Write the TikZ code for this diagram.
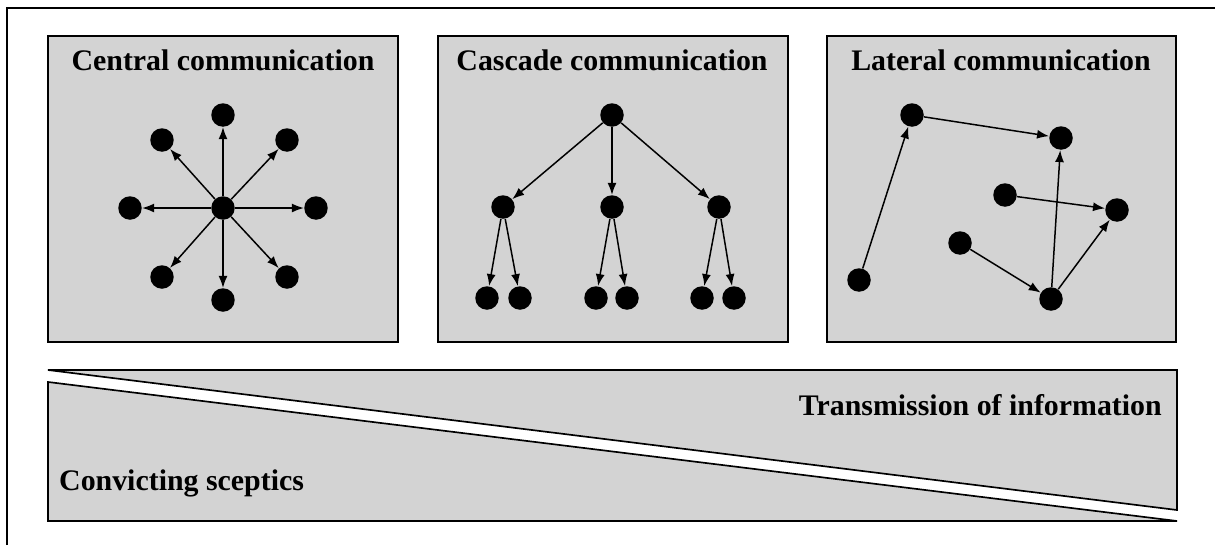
\documentclass[tikz,border=0pt]{standalone}
\usepackage{fontspec}
\setmainfont{Liberation Serif}
\usetikzlibrary{arrows.meta}
\definecolor{panelgray}{RGB}{211,211,211}
\tikzset{
  dot/.style={circle,fill=black,inner sep=0pt,minimum size=0.47cm},
  link/.style={-{Latex[length=2.4mm,width=1.8mm]},line width=0.85pt},
  panel/.style={draw,fill=panelgray,line width=0.95pt},
  title/.style={font=\bfseries\fontsize{17}{20}\selectfont,anchor=base}
}

\begin{document}
\begin{tikzpicture}[x=0.02cm,y=-0.02cm]
    \useasboundingbox (0,0) rectangle (1215,545);
    \draw[line width=0.95pt] (7,545) -- (7,8) -- (1215,8);

    % the three panels
    \draw[panel] (48,36) rectangle (398,342);
    \draw[panel] (438,36) rectangle (788,342);
    \draw[panel] (827,36) rectangle (1176,342);
    \node[title] (tcentral) at (223,70) {Central communication};
    \node[title] (tcascade) at (612,70) {Cascade communication};
    \node[title] (tlateral) at (1001,70) {Lateral communication};

    % central
    \node[dot] (c0) at (223,208) {};
    \foreach \n/\x/\y in {1/223/115, 2/287/140, 3/316/208, 4/287/277,
                          5/223/300, 6/162/277, 7/130/208, 8/162/140}
    {
        \node[dot] (c\n) at (\x,\y) {};
        \draw[link] (c0) -- (c\n);
    }

    % cascade
    \node[dot] (k0) at (612,115) {};
    \foreach \n/\x in {1/503, 2/612, 3/719}
    {
        \node[dot] (k\n) at (\x,207) {};
        \draw[link] (k0) -- (k\n);
    }
    \foreach \n/\x/\p in {1a/487/1, 1b/520/1, 2a/596/2, 2b/627/2, 3a/702/3, 3b/734/3}
    {
        \node[dot] (k\n) at (\x,298) {};
        \draw[link] (k\p) -- (k\n);
    }

    % lateral
    \node[dot] (la) at (912,115) {};
    \node[dot] (lb) at (1061,138) {};
    \node[dot] (lc) at (1005,195) {};
    \node[dot] (ld) at (1117,210) {};
    \node[dot] (le) at (960,243) {};
    \node[dot] (lf) at (859,280) {};
    \node[dot] (lg) at (1051,299) {};
    \draw[link] (lf) -- (la);
    \draw[link] (la) -- (lb);
    \draw[link] (lc) -- (ld);
    \draw[link] (le) -- (lg);
    \draw[link] (lg) -- (lb);
    \draw[link] (lg) -- (ld);

    % bottom bar
    \draw[panel] (48,370) -- (1177,370) -- (1177,510) -- cycle;
    \draw[panel] (48,382) -- (1177,521) -- (48,521) -- cycle;
    \node[title,anchor=base east] (ttrans) at (1168,415) {Transmission of information};
    \node[title,anchor=base west] (tconv) at (53,490) {Convicting sceptics};
\end{tikzpicture}
\end{document}
